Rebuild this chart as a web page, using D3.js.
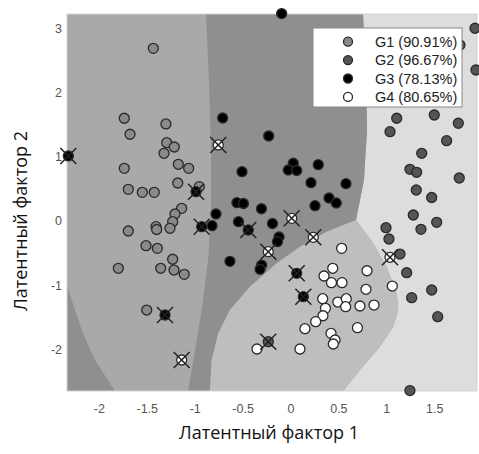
<!DOCTYPE html>
<html>
<head>
<meta charset="utf-8">
<script src="https://cdn.jsdelivr.net/npm/d3@7"></script>
<style>
body { margin: 0; background: #fff; }
svg { display: block; }
</style>
</head>
<body>
<script>
// points: [latent factor 1, latent factor 2]
const g1 = [[-1.432, 2.698], [-1.735, 1.605], [-1.675, 1.355], [-1.300, 1.516], [-1.292, 1.223],
  [-1.213, 1.156], [-1.320, 1.058], [-1.735, 0.823], [-1.171, 0.886], [-1.063, 0.823],
  [-1.693, 0.495], [-1.547, 0.448], [-1.422, 0.448], [-1.177, 0.594], [-0.952, 0.536],
  [-1.136, 0.198], [-1.206, 0.109], [-1.230, -0.011], [-1.258, -0.114], [-1.693, -0.156],
  [-1.404, -0.089], [-1.397, -0.133], [-1.508, -0.386], [-1.390, -0.427], [-1.230, -0.598],
  [-1.797, -0.739], [-1.355, -0.739], [-1.216, -0.766], [-1.109, -0.833], [-1.501, -1.391]];
const g2 = [[1.926, 3.011], [1.769, 2.750], [1.936, 2.359], [1.109, 1.605], [1.039, 1.395],
  [1.501, 1.656], [1.752, 1.527], [1.630, 1.255], [1.370, 1.058], [1.247, 0.808],
  [1.317, 0.761], [1.762, 0.672], [1.313, 0.484], [1.474, 0.367], [1.282, 0.094],
  [1.526, -0.020], [1.362, -0.130], [0.997, -0.105], [1.028, -0.281], [1.143, -0.516],
  [1.213, -0.808], [1.474, -1.078], [1.265, -1.198], [1.537, -1.495], [1.247, -2.650]];
const g2Miss = [[-0.232, -1.886]];
const g3 = [[-0.708, 1.609], [-0.506, 0.770], [-0.092, 3.240], [-0.228, 1.328], [0.029, 0.902],
  [-0.023, 0.797], [0.065, 0.789], [0.290, 0.880], [0.214, 0.598], [0.579, 0.583],
  [0.402, 0.359], [0.478, 0.281], [0.256, 0.239], [-0.559, 0.286], [-0.491, 0.273],
  [-0.303, 0.191], [-0.778, 0.109], [-0.819, -0.073], [-0.543, -0.011], [-0.188, -0.039],
  [-0.120, -0.250], [-0.136, -0.323], [-0.632, -0.630], [-0.301, -0.688], [-0.318, -0.755]];
const g3Miss = [[-2.319, 1.016], [-0.986, 0.458], [-0.927, -0.089], [-1.310, -1.469],
  [0.065, -0.817], [0.134, -1.183], [-0.441, -0.141]];
const g4 = [[0.534, -0.427], [0.441, -0.739], [0.350, -0.859], [0.428, -0.964], [0.538, -0.964],
  [0.799, -0.777], [0.788, -1.067], [1.063, -1.016], [0.336, -1.214], [0.494, -1.266],
  [0.582, -1.214], [0.576, -1.339], [0.725, -1.328], [0.872, -1.313], [0.365, -1.364],
  [0.339, -1.480], [0.263, -1.573], [0.151, -1.683], [0.699, -1.667], [0.423, -1.755],
  [0.465, -1.859], [0.447, -1.922], [0.099, -2.000], [-0.350, -2.000]];
const g4Miss = [[0.013, 0.042], [0.238, -0.255], [1.039, -0.567], [-1.136, -2.172],
  [-0.754, 1.188], [-0.232, -0.480]];

// class boundaries traced from the shaded background
const edge13 = [[-0.882, 3.234], [-0.851, 2.203], [-0.830, 1.109], [-0.830, 0.016],
  [-0.861, -0.609], [-0.913, -1.234], [-0.986, -1.938], [-1.070, -2.656]];
const edge32 = [[0.757, 3.234], [0.788, 2.359], [0.799, 1.422], [0.767, 0.641], [0.684, 0.016]];
const edge34 = [[0.684, 0.016], [0.378, -0.167], [0.099, -0.402], [-0.144, -0.661],
  [-0.423, -1.027], [-0.632, -1.391], [-0.754, -1.755], [-0.823, -2.172], [-0.840, -2.656]];
const edge42 = [[0.684, 0.016], [0.864, -0.348], [1.004, -0.714], [1.109, -1.130],
  [1.125, -1.391], [1.073, -1.652], [0.934, -1.964], [0.725, -2.328], [0.551, -2.656]];
const edgeWedge = [[-2.333, -1.0], [-2.250, -1.391], [-2.166, -1.750], [-2.041, -2.172],
  [-1.832, -2.656]];

const xLim = [-2.333, 1.947];
const yLim = [-2.656, 3.234];
const xTicks = [-2, -1.5, -1, -0.5, 0, 0.5, 1, 1.5];
const yTicks = [-2, -1, 0, 1, 2, 3];
const legendLabels = ['G1 (90.91%)', 'G2 (96.67%)', 'G3 (78.13%)', 'G4 (80.65%)'];

const width = 479, height = 454;
const mLeft = 67, mTop = 14, mRight = 477, mBottom = 391;

const fill = { g1: '#8a8a8a', g2: '#555555', g3: '#000000', g4: '#ffffff' };
const region = { g1: '#a9a9a9', g2: '#dddddd', g3: '#8f8f8f', g4: '#bebebe' };

const svg = d3.select('body')
  .append('svg')
  .attr('width', width)
  .attr('height', height);

const x = d3.scaleLinear().domain(xLim).range([mLeft, mRight]);
const y = d3.scaleLinear().domain(yLim).range([mBottom, mTop]);

const line = d3.line().x(d => x(d[0])).y(d => y(d[1]));
const rev = a => a.slice().reverse();

const [x0, x1] = xLim, [y0, y1] = yLim;

// background regions
svg.append('rect')
  .attr('x', mLeft).attr('y', mTop)
  .attr('width', mRight - mLeft).attr('height', mBottom - mTop)
  .attr('fill', region.g1);

const polys = [
  { c: region.g2, pts: [...edge32, ...edge42.slice(1), [x1, y0], [x1, y1]] },
  { c: region.g3, pts: [...edge13, ...rev(edge34), ...rev(edge32).slice(1)] },
  { c: region.g4, pts: [...edge34, ...rev(edge42)] },
  { c: region.g3, pts: [...edgeWedge, [x0, y0]] }
];
svg.selectAll('.region')
  .data(polys)
  .enter()
  .append('path')
  .attr('class', 'region')
  .attr('d', d => line(d.pts) + 'Z')
  .attr('fill', d => d.c);

svg.append('rect')
  .attr('x', mLeft).attr('y', mTop)
  .attr('width', mRight - mLeft).attr('height', mBottom - mTop)
  .attr('fill', 'none')
  .attr('stroke', '#d4d4d4');

// axes
const fmt = d => String(d);
const xaxis = svg.append('g')
  .attr('transform', `translate(0, ${mBottom})`)
  .call(d3.axisBottom(x).tickValues(xTicks).tickFormat(fmt).tickSize(0).tickPadding(13));
const yaxis = svg.append('g')
  .attr('transform', `translate(${mLeft}, 0)`)
  .call(d3.axisLeft(y).tickValues(yTicks).tickFormat(fmt).tickSize(0).tickPadding(5));
[xaxis, yaxis].forEach(g => {
  g.select('.domain').remove();
  g.selectAll('text')
    .attr('fill', '#555')
    .style('font-family', 'Liberation Sans, Arial, sans-serif')
    .style('font-size', '12.5px');
});

// points
const groups = [
  { pts: g1, f: fill.g1 }, { pts: g2, f: fill.g2 }, { pts: g2Miss, f: fill.g2 },
  { pts: g3, f: fill.g3 }, { pts: g3Miss, f: fill.g3 },
  { pts: g4, f: fill.g4 }, { pts: g4Miss, f: fill.g4 }
];
groups.forEach(g => {
  svg.append('g')
    .selectAll('circle')
    .data(g.pts)
    .enter()
    .append('circle')
    .attr('cx', d => x(d[0]))
    .attr('cy', d => y(d[1]))
    .attr('r', 5)
    .attr('fill', g.f)
    .attr('stroke', '#2a2a2a')
    .attr('stroke-width', 1.3);
});

// misclassified markers
const miss = [...g2Miss, ...g3Miss, ...g4Miss];
const cross = svg.append('g')
  .attr('stroke', '#222')
  .attr('stroke-width', 1.5);
cross.selectAll('.x1')
  .data(miss)
  .enter()
  .append('line')
  .attr('x1', d => x(d[0]) - 8).attr('y1', d => y(d[1]) - 8)
  .attr('x2', d => x(d[0]) + 8).attr('y2', d => y(d[1]) + 8);
cross.selectAll('.x2')
  .data(miss)
  .enter()
  .append('line')
  .attr('x1', d => x(d[0]) - 8).attr('y1', d => y(d[1]) + 8)
  .attr('x2', d => x(d[0]) + 8).attr('y2', d => y(d[1]) - 8);

// legend
const legend = svg.append('g').attr('transform', 'translate(313, 28)');
legend.append('rect')
  .attr('width', 149).attr('height', 79)
  .attr('fill', '#fff')
  .attr('stroke', '#8a8a8a');
const legendFills = [fill.g1, fill.g2, fill.g3, fill.g4];
const row = legend.selectAll('.row')
  .data(legendLabels)
  .enter()
  .append('g')
  .attr('transform', (d, i) => `translate(0, ${13.7 + i * 18.4})`);
row.append('circle')
  .attr('cx', 35).attr('r', 4.5)
  .attr('fill', (d, i) => legendFills[i])
  .attr('stroke', '#2a2a2a')
  .attr('stroke-width', 1.3);
row.append('text')
  .attr('x', 62).attr('y', 5)
  .attr('fill', '#222')
  .style('font-family', 'Liberation Sans, Arial, sans-serif')
  .style('font-size', '14.5px')
  .text(d => d);

// axis titles
svg.append('text')
  .attr('x', 269).attr('y', 439)
  .attr('text-anchor', 'middle')
  .style('font-family', 'Open Sans, sans-serif')
  .style('font-size', '18px')
  .attr('fill', '#111')
  .text('Латентный фактор 1');
svg.append('text')
  .attr('transform', 'translate(27, 221) rotate(-90)')
  .attr('text-anchor', 'middle')
  .style('font-family', 'Open Sans, sans-serif')
  .style('font-size', '18px')
  .attr('fill', '#111')
  .text('Латентный фактор 2');
</script>
</body>
</html>
